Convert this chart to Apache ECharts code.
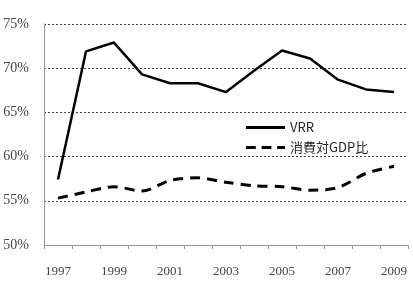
<!DOCTYPE html>
<html><head><meta charset="utf-8">
<script src="https://cdn.jsdelivr.net/npm/echarts@6/dist/echarts.min.js"></script>
<style>html,body{margin:0;padding:0;background:#fff}#c{width:413px;height:291px}</style>
</head><body><div id="c"></div>
<script>
const years = ['1997','1998','1999','2000','2001','2002','2003','2004','2005','2006','2007','2008','2009'];
const vrr = [57.4, 71.9, 72.9, 69.3, 68.3, 68.3, 67.3, 69.7, 72.0, 71.1, 68.7, 67.6, 67.3];
const consumption = [55.3, 56.0, 56.6, 56.1, 57.3, 57.6, 57.1, 56.7, 56.6, 56.2, 56.5, 58.1, 58.9];
const seriesNames = ['VRR', '消費対GDP比'];

const chart = echarts.init(document.getElementById('c'));
chart.setOption({
  animation: false,
  backgroundColor: '#fff',
  grid: {left: 44, right: 5, top: 24, bottom: 46},
  legend: {
    orient: 'vertical', left: 241, top: 116, itemWidth: 39, itemHeight: 3, itemGap: 7,
    textStyle: {fontFamily: 'Noto Sans CJK JP', fontSize: 13, color: '#222'},
    data: [
      {name: seriesNames[0], icon: 'rect', itemStyle: {color: '#000'}},
      {name: seriesNames[1], icon: 'path://M0,0h10v3h-10z M16,0h10v3h-10z M32,0h8v3h-8z', itemStyle: {color: '#000'}}
    ]
  },
  xAxis: {
    type: 'category', data: years, boundaryGap: true,
    axisLine: {lineStyle: {color: '#999'}},
    axisTick: {show: true, interval: 0, length: 4, lineStyle: {color: '#999'}},
    axisLabel: {interval: 1, margin: 20, fontFamily: 'Liberation Serif', fontSize: 13, color: '#444'}
  },
  yAxis: {
    type: 'value', min: 50, max: 75, interval: 5,
    axisLine: {show: true, lineStyle: {color: '#999'}},
    axisTick: {show: false},
    axisLabel: {formatter: '{value}%', margin: 15, fontFamily: 'Liberation Serif', fontSize: 14, color: '#444'},
    splitLine: {lineStyle: {color: '#444', type: [2, 2], width: 1}}
  },
  series: [
    {name: seriesNames[0], type: 'line', data: vrr, symbol: 'none',
     lineStyle: {color: '#000', width: 2.5}, itemStyle: {color: '#000'}},
    {name: seriesNames[1], type: 'line', data: consumption, symbol: 'none', smooth: 0.3,
     lineStyle: {color: '#000', width: 3, type: [10, 7]}, itemStyle: {color: '#000'}}
  ]
});
</script></body></html>
